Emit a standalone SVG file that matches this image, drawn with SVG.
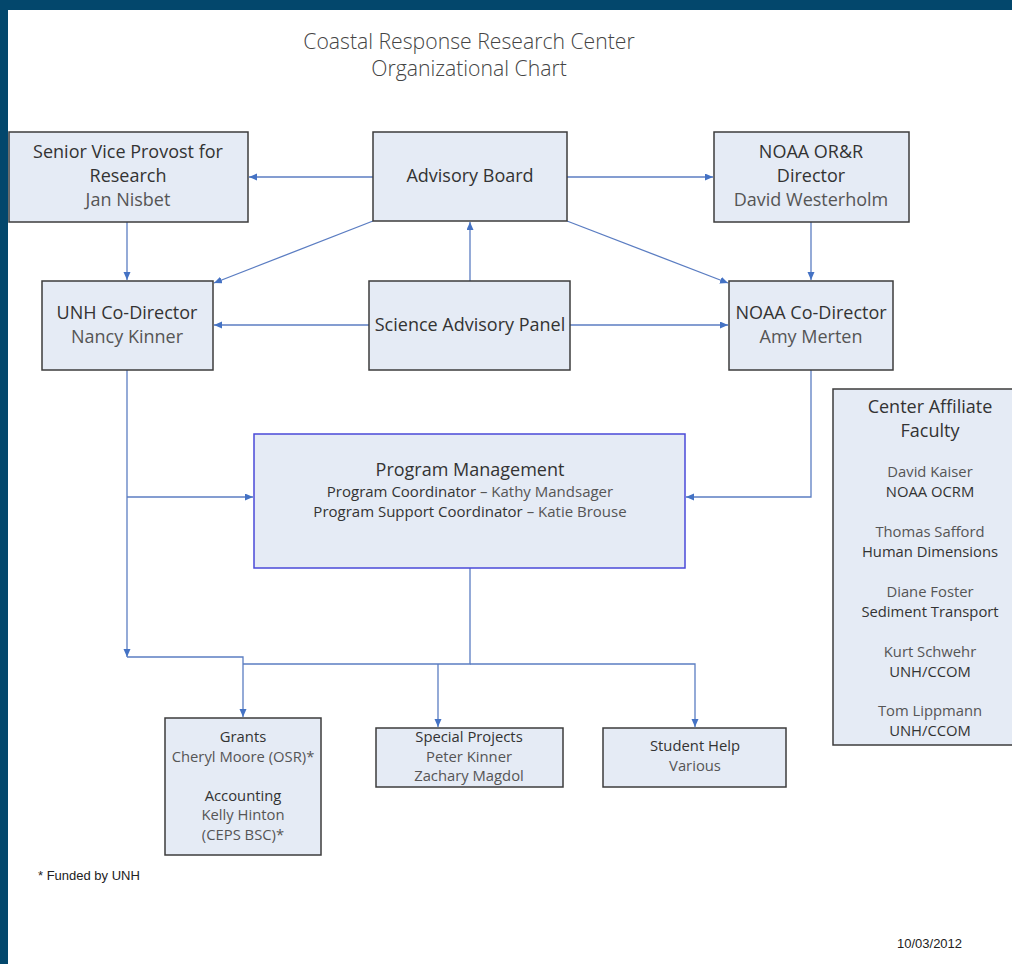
<svg xmlns="http://www.w3.org/2000/svg" width="1012" height="964" viewBox="0 0 1012 964">
<style>
.bx{fill:#e5ebf5;stroke:#3c3c3c;stroke-width:1.5}
.pm{fill:#e5ebf5;stroke:#4a4ad8;stroke-width:1.5}
.t{font-family:"Open Sans","Noto Sans","Liberation Sans",sans-serif;fill:#333;text-anchor:middle}
.l{font-size:18px}
.m{font-size:15px}
.s{font-size:14.8px}
.lt{fill:#555}
.c{fill:none;stroke:#5b7dc2;stroke-width:1.3}
.f{font-family:"Liberation Sans",Arial,sans-serif;font-size:13px;fill:#222}
</style>
<defs>
<marker id="a" markerWidth="8" markerHeight="8" refX="8" refY="3.5" orient="auto" markerUnits="userSpaceOnUse">
<path d="M0,0 L8,3.5 L0,7 z" fill="#4472c4"/>
</marker>
</defs>
<rect x="0" y="0" width="1012" height="964" fill="#ffffff"/>
<rect x="0" y="0" width="1012" height="10" fill="#03476c"/>
<rect x="0" y="0" width="8" height="964" fill="#03476c"/>

<g id="title">
<text class="t" x="469" y="49" style="font-size:21.2px;font-weight:300;fill:#444">Coastal Response Research Center</text>
<text class="t" x="469" y="76" style="font-size:21.2px;font-weight:300;fill:#444">Organizational Chart</text>
</g>

<g id="connectors">
<path class="c" d="M373,177 H249" marker-end="url(#a)"/>
<path class="c" d="M567,177 H713" marker-end="url(#a)"/>
<path class="c" d="M127,222 V280" marker-end="url(#a)"/>
<path class="c" d="M811,222 V280" marker-end="url(#a)"/>
<path class="c" d="M373,221 L214,283" marker-end="url(#a)"/>
<path class="c" d="M567,221 L728,283" marker-end="url(#a)"/>
<path class="c" d="M470,281 V222" marker-end="url(#a)"/>
<path class="c" d="M369,325 H214" marker-end="url(#a)"/>
<path class="c" d="M570,325 H728" marker-end="url(#a)"/>
<path class="c" d="M127,370 V657" marker-end="url(#a)"/>
<path class="c" d="M127,497 H253" marker-end="url(#a)"/>
<path class="c" d="M811,370 V497 H686" marker-end="url(#a)"/>
<path class="c" d="M127,657 H243 V717" marker-end="url(#a)"/>
<path class="c" d="M470,568 V664 H243"/>
<path class="c" d="M438,664 V727" marker-end="url(#a)"/>
<path class="c" d="M470,664 H695 V727" marker-end="url(#a)"/>
</g>

<g id="senior-vp">
<rect class="bx" x="9" y="132" width="239" height="90"/>
<text class="t l" x="128" y="158">Senior Vice Provost for</text>
<text class="t l" x="128" y="182">Research</text>
<text class="t l lt" x="128" y="206">Jan Nisbet</text>
</g>

<g id="advisory-board">
<rect class="bx" x="373" y="132" width="194" height="89"/>
<text class="t l" x="470" y="182">Advisory Board</text>
</g>

<g id="noaa-orr">
<rect class="bx" x="714" y="132" width="195" height="90"/>
<text class="t l" x="811" y="158">NOAA OR&amp;R</text>
<text class="t l" x="811" y="182">Director</text>
<text class="t l lt" x="811" y="206">David Westerholm</text>
</g>

<g id="unh-codirector">
<rect class="bx" x="42" y="281" width="171" height="89"/>
<text class="t l" x="127" y="319">UNH Co-Director</text>
<text class="t l lt" x="127" y="343">Nancy Kinner</text>
</g>

<g id="science-panel">
<rect class="bx" x="369" y="281" width="201" height="89"/>
<text class="t l" x="470" y="331">Science Advisory Panel</text>
</g>

<g id="noaa-codirector">
<rect class="bx" x="729" y="281" width="164" height="89"/>
<text class="t l" x="811" y="319">NOAA Co-Director</text>
<text class="t l lt" x="811" y="343">Amy Merten</text>
</g>

<g id="program-management">
<rect class="pm" x="254" y="434" width="431" height="134"/>
<text class="t l" x="470" y="476">Program Management</text>
<text class="t m" x="470" y="497">Program Coordinator <tspan class="lt">– Kathy Mandsager</tspan></text>
<text class="t m" x="470" y="517">Program Support Coordinator <tspan class="lt">– Katie Brouse</tspan></text>
</g>

<g id="affiliate-faculty">
<rect class="bx" x="833" y="389" width="195" height="356"/>
<text class="t l" x="930" y="413">Center Affiliate</text>
<text class="t l" x="930" y="437">Faculty</text>
<text class="t s lt" x="930" y="477">David Kaiser</text>
<text class="t s" x="930" y="497">NOAA OCRM</text>
<text class="t s lt" x="930" y="537">Thomas Safford</text>
<text class="t s" x="930" y="557">Human Dimensions</text>
<text class="t s lt" x="930" y="597">Diane Foster</text>
<text class="t s" x="930" y="617">Sediment Transport</text>
<text class="t s lt" x="930" y="657">Kurt Schwehr</text>
<text class="t s" x="930" y="677">UNH/CCOM</text>
<text class="t s lt" x="930" y="716">Tom Lippmann</text>
<text class="t s" x="930" y="736">UNH/CCOM</text>
</g>

<g id="grants">
<rect class="bx" x="165" y="718" width="156" height="137"/>
<text class="t s" x="243" y="742">Grants</text>
<text class="t s lt" x="243" y="762">Cheryl Moore (OSR)*</text>
<text class="t s" x="243" y="801">Accounting</text>
<text class="t s lt" x="243" y="820">Kelly Hinton</text>
<text class="t s lt" x="243" y="840">(CEPS BSC)*</text>
</g>

<g id="special-projects">
<rect class="bx" x="376" y="728" width="187" height="59"/>
<text class="t s" x="469" y="742">Special Projects</text>
<text class="t s lt" x="469" y="762">Peter Kinner</text>
<text class="t s lt" x="469" y="781">Zachary Magdol</text>
</g>

<g id="student-help">
<rect class="bx" x="603" y="728" width="183" height="59"/>
<text class="t s" x="695" y="751">Student Help</text>
<text class="t s lt" x="695" y="771">Various</text>
</g>

<g id="notes">
<text class="f" x="38" y="880">* Funded by UNH</text>
<text class="f" x="897" y="948">10/03/2012</text>
</g>
</svg>
